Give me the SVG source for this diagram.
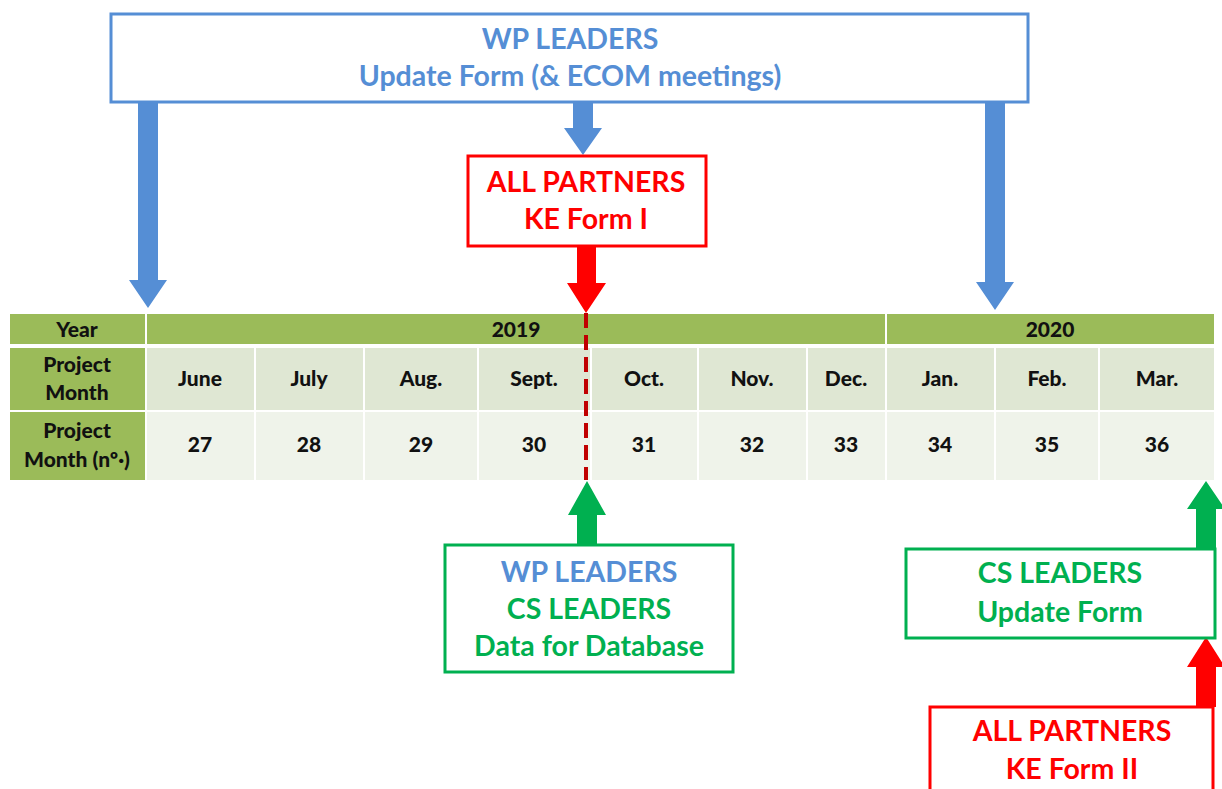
<svg xmlns="http://www.w3.org/2000/svg" width="1222" height="789" viewBox="0 0 1222 789">
<style>
.t{font-family:Lato,"Open Sans","Liberation Sans",sans-serif;font-weight:bold;text-anchor:middle}
.big{font-size:28.5px}
.tb{font-size:21px;fill:#111;font-weight:900}
.blue{fill:#558ED5}
.red{fill:#FF0000}
.green{fill:#00B050}
.box{fill:#fff;stroke-width:3}
.hdr{fill:#9BBB59}
.mon{fill:#DFE7D3}
.num{fill:#EFF3EA}
</style>
<rect width="1222" height="789" fill="#fff"/>
<g id="table">
<rect class="hdr" x="10" y="314" width="135" height="30"/>
<rect class="hdr" x="147" y="314" width="738" height="30"/>
<rect class="hdr" x="887" y="314" width="327" height="30"/>
<rect class="hdr" x="10" y="348" width="135" height="62"/>
<rect class="hdr" x="10" y="412" width="135" height="68"/>
<rect class="mon" x="147" y="348" width="107" height="62"/>
<rect class="mon" x="256" y="348" width="107" height="62"/>
<rect class="mon" x="365" y="348" width="112" height="62"/>
<rect class="mon" x="479" y="348" width="111" height="62"/>
<rect class="mon" x="592" y="348" width="105" height="62"/>
<rect class="mon" x="699" y="348" width="107" height="62"/>
<rect class="mon" x="808" y="348" width="77" height="62"/>
<rect class="mon" x="887" y="348" width="107" height="62"/>
<rect class="mon" x="996" y="348" width="102" height="62"/>
<rect class="mon" x="1100" y="348" width="114" height="62"/>
<rect class="num" x="147" y="412" width="107" height="68"/>
<rect class="num" x="256" y="412" width="107" height="68"/>
<rect class="num" x="365" y="412" width="112" height="68"/>
<rect class="num" x="479" y="412" width="111" height="68"/>
<rect class="num" x="592" y="412" width="105" height="68"/>
<rect class="num" x="699" y="412" width="107" height="68"/>
<rect class="num" x="808" y="412" width="77" height="68"/>
<rect class="num" x="887" y="412" width="107" height="68"/>
<rect class="num" x="996" y="412" width="102" height="68"/>
<rect class="num" x="1100" y="412" width="114" height="68"/>
<text class="t tb" x="77" y="337">Year</text>
<text class="t tb" x="516" y="337">2019</text>
<text class="t tb" x="1050" y="337">2020</text>
<text class="t tb" x="77" y="372">Project</text>
<text class="t tb" x="77" y="400">Month</text>
<text class="t tb" x="77" y="438">Project</text>
<text class="t tb" x="77" y="467">Month (nº·)</text>
<text class="t tb" x="200" y="386">June</text>
<text class="t tb" x="309" y="386">July</text>
<text class="t tb" x="421" y="386">Aug.</text>
<text class="t tb" x="534" y="386">Sept.</text>
<text class="t tb" x="644" y="386">Oct.</text>
<text class="t tb" x="752" y="386">Nov.</text>
<text class="t tb" x="846" y="386">Dec.</text>
<text class="t tb" x="940" y="386">Jan.</text>
<text class="t tb" x="1047" y="386">Feb.</text>
<text class="t tb" x="1157" y="386">Mar.</text>
<text class="t tb" x="200" y="452">27</text>
<text class="t tb" x="309" y="452">28</text>
<text class="t tb" x="421" y="452">29</text>
<text class="t tb" x="534" y="452">30</text>
<text class="t tb" x="644" y="452">31</text>
<text class="t tb" x="752" y="452">32</text>
<text class="t tb" x="846" y="452">33</text>
<text class="t tb" x="940" y="452">34</text>
<text class="t tb" x="1047" y="452">35</text>
<text class="t tb" x="1157" y="452">36</text>
</g>
<g id="connectors">
<polygon class="blue" points="138,102 158,102 158,280 167,280 148,308 129,280 138,280"/>
<polygon class="blue" points="573,102 593,102 593,128 602,128 583,155 564,128 573,128"/>
<polygon class="blue" points="985,102 1005,102 1005,282 1014,282 995,310 976,282 985,282"/>
<polygon class="red" points="577,246 596,246 596,283 606,283 586,313 567,283 577,283"/>
<line x1="586" y1="313" x2="586" y2="480" stroke="#C00000" stroke-width="4" stroke-dasharray="15,7"/>
<polygon class="green" points="577,545 597,545 597,515 606,515 587,481 568,515 577,515"/>
<polygon class="green" points="1196,549 1216,549 1216,509 1225,509 1206,481 1187,509 1196,509"/>
<polygon class="red" points="1196,707 1216,707 1216,667 1225,667 1206,637 1187,667 1196,667"/>
</g>
<g id="wp-leaders-top">
<rect class="box" x="111" y="14" width="917" height="88" stroke="#558ED5"/>
<text class="t big blue" x="570" y="49">WP LEADERS</text>
<text class="t big blue" x="570" y="86">Update Form (&amp; ECOM meetings)</text>
</g>
<g id="all-partners-1">
<rect class="box" x="468" y="156" width="238" height="90" stroke="#FF0000"/>
<text class="t big red" x="586" y="192">ALL PARTNERS</text>
<text class="t big red" x="586" y="229">KE Form I</text>
</g>
<g id="data-for-database">
<rect class="box" x="445" y="545" width="288" height="127" stroke="#00B050"/>
<text class="t big blue" x="589" y="582">WP LEADERS</text>
<text class="t big green" x="589" y="619">CS LEADERS</text>
<text class="t big green" x="589" y="656">Data for Database</text>
</g>
<g id="cs-update-form">
<rect class="box" x="906" y="549" width="309" height="89" stroke="#00B050"/>
<text class="t big green" x="1060" y="583">CS LEADERS</text>
<text class="t big green" x="1060" y="622">Update Form</text>
</g>
<g id="all-partners-2">
<rect class="box" x="930" y="707" width="283" height="100" stroke="#FF0000"/>
<text class="t big red" x="1072" y="741">ALL PARTNERS</text>
<text class="t big red" x="1072" y="779">KE Form II</text>
</g>
</svg>
